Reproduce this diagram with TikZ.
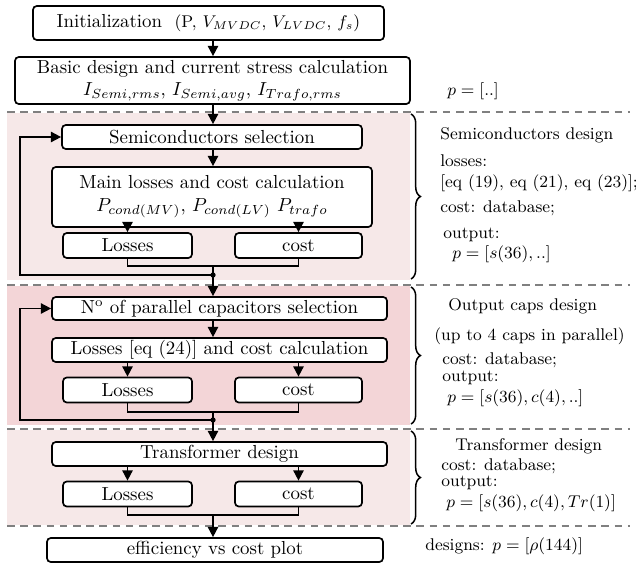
\documentclass[tikz,border=0pt]{standalone}
\usepackage{amsmath,amssymb}
\usepackage{xcolor}
\usepackage{tikz}
\usetikzlibrary{positioning,calc,arrows.meta,decorations.pathreplacing}

\definecolor{pinklt}{RGB}{246,232,232}
\definecolor{pinkdk}{RGB}{243,213,215}

\begin{document}
\begin{tikzpicture}[x=0.53pt,y=-0.53pt,
    blk/.style={draw,line width=0.9pt,rounded corners=2pt,fill=white,align=center,inner sep=1pt},
    wh/.style 2 args={minimum width=#1*0.53pt,minimum height=#2*0.53pt},
    txt/.style={anchor=west,font=\small,inner sep=0pt},
    sep/.style={gray,dash pattern=on 4pt off 3pt,line width=0.7pt},
    brc/.style={decorate,decoration={brace,amplitude=5pt},line width=0.8pt},
    >={Triangle[length=5.5pt,width=5.5pt]}]
    \useasboundingbox (0,0) rectangle (636,566);
    % Shaded stages
    \fill[pinklt] (7,113) rectangle (410,280);
    \fill[pinkdk] (7,286) rectangle (410,425);
    \fill[pinklt] (7,430) rectangle (410,525);
    \draw[sep] (7,112) -- (630,112);
    \draw[sep] (7,285) -- (630,285);
    \draw[sep] (7,429) -- (630,429);
    \draw[sep] (7,526) -- (630,526);
    % Helper coordinates
    \coordinate (spine) at (213,0);
    \coordinate (loopx) at (20,0);
    \coordinate (j1) at (213,266);
    \coordinate (d1) at (213,275);
    \coordinate (j2) at (213,412);
    \coordinate (d2) at (213,420);
    \coordinate (j3) at (213,515);
    % Start
    \node[blk,wh={351}{34}] (init) at (208.5,23) {Initialization~ {\small (P, $V_{MVDC}$, $V_{LVDC}$, $f_s$)}};
    \node[blk,wh={395}{47}] (basic) at (212.5,80.5) {Basic design and current stress calculation\\ $I_{Semi,rms}$, $I_{Semi,avg}$, $I_{Trafo,rms}$};
    \node[txt] (pinit) at (447,91) {$p=[..]$};
    % Semiconductors
    \node[blk,wh={300}{24}] (semi) at (212,137) {Semiconductors selection};
    \node[blk,wh={320}{60}] (main) at (212,197) {Main losses and cost calculation\\ $P_{cond(MV)}$, $P_{cond(LV)}$ $P_{trafo}$};
    \node[blk,wh={129}{25}] (loss1) at (127.5,245.5) {Losses};
    \node[blk,wh={127}{25}] (cost1) at (298.5,245.5) {cost};
    % Output caps
    \node[blk,wh={335}{23}] (ncap) at (219.5,308.5) {N\textsuperscript{o} of parallel capacitors selection};
    \node[blk,wh={335}{24}] (lcap) at (219.5,350) {Losses [eq (24)] and cost calculation};
    \node[blk,wh={129}{25}] (loss2) at (127.5,390) {Losses};
    \node[blk,wh={127}{25}] (cost2) at (298.5,390) {cost};
    % Transformer
    \node[blk,wh={335}{24}] (trafo) at (219.5,454) {Transformer design};
    \node[blk,wh={129}{25}] (loss3) at (127.5,494) {Losses};
    \node[blk,wh={127}{25}] (cost3) at (298.5,494) {cost};
    % End
    \node[blk,wh={336}{24}] (eff) at (215,550) {efficiency vs cost plot};
    % Flow
    \begin{scope}[line width=0.9pt]
        \draw[->] (init.south -| spine) -- (basic.north -| spine);
        \draw[->] (basic.south -| spine) -- (semi.north -| spine);
        \draw[->] (semi.south -| spine) -- (main.north -| spine);
        \draw[->] (loss1.north |- main.south) -- (loss1.north);
        \draw[->] (cost1.north |- main.south) -- (cost1.north);
        \draw (loss1.south) |- (j1) -| (cost1.south);
        \draw[->] (j1) -- (ncap.north -| spine);
        \fill (d1) circle[radius=1.4pt];
        \draw[->] (d1) -| (loopx |- semi.west) -- (semi.west);
        \draw[->] (ncap.south -| spine) -- (lcap.north -| spine);
        \draw[->] (loss2.north |- lcap.south) -- (loss2.north);
        \draw[->] (cost2.north |- lcap.south) -- (cost2.north);
        \draw (loss2.south) |- (j2) -| (cost2.south);
        \draw[->] (j2) -- (trafo.north -| spine);
        \fill (d2) circle[radius=1.4pt];
        \draw[->] (d2) -| (loopx |- ncap.west) -- (ncap.west);
        \draw[->] (loss3.north |- trafo.south) -- (loss3.north);
        \draw[->] (cost3.north |- trafo.south) -- (cost3.north);
        \draw (loss3.south) |- (j3) -| (cost3.south);
        \draw[->] (j3) -- (eff.north -| spine);
    \end{scope}
    % Braces
    \draw[brc] (411,114) -- (411,279);
    \draw[brc] (411,287) -- (411,424);
    \draw[brc] (411,431) -- (411,524);
    % Notes
    \node[txt] (s1) at (440,135) {Semiconductors design};
    \node[txt] (s2) at (440,161) {losses:};
    \node[txt] (s3) at (440,183) {[eq (19), eq (21), eq (23)];};
    \node[txt] (s4) at (440,208) {cost: database;};
    \node[txt] (s5) at (443,235) {output:};
    \node[txt] (s6) at (452,254) {$p=[s(36),..]$};
    \node[txt] (c1) at (448,306) {Output caps design};
    \node[txt] (c2) at (434,336) {(up to 4 caps in parallel)};
    \node[txt] (c3) at (442,360) {cost: database;};
    \node[txt] (c4) at (442,378) {output:};
    \node[txt] (c5) at (447,398) {$p=[s(36),c(4),..]$};
    \node[txt] (t1) at (455,446) {Transformer design};
    \node[txt] (t2) at (441,466) {cost: database;};
    \node[txt] (t3) at (441,483) {output:};
    \node[txt] (t4) at (446,503) {$p=[s(36),c(4),Tr(1)]$};
    \node[txt] (dsg) at (425,546) {designs: $p=[\rho(144)]$};
\end{tikzpicture}
\end{document}
